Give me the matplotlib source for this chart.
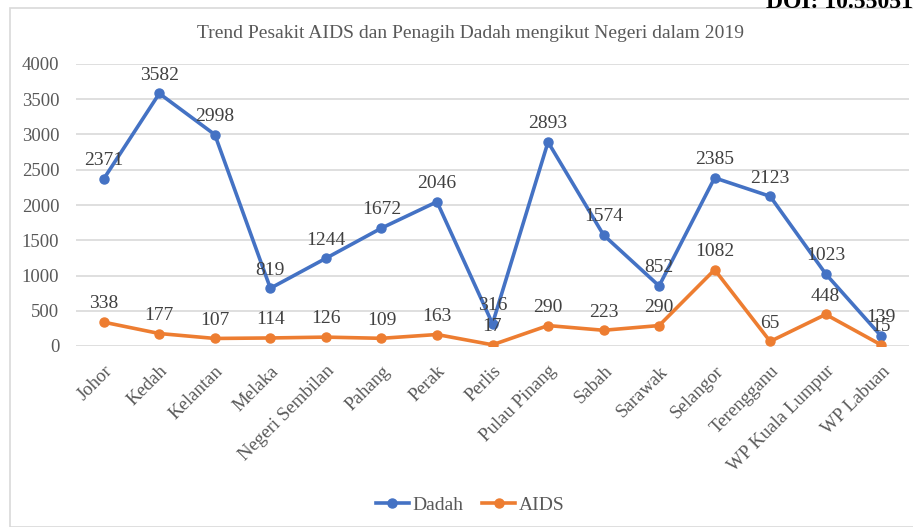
import matplotlib
matplotlib.use("Agg")
from matplotlib import pyplot as plt
from matplotlib.patches import Rectangle
import numpy as np

negeri = ['Johor', 'Kedah', 'Kelantan', 'Melaka', 'Negeri Sembilan', 'Pahang', 'Perak',
          'Perlis', 'Pulau Pinang', 'Sabah', 'Sarawak', 'Selangor', 'Terengganu',
          'WP Kuala Lumpur', 'WP Labuan']
dadah = [2371, 3582, 2998, 819, 1244, 1672, 2046, 316, 2893, 1574, 852, 2385, 2123, 1023, 139]
aids = [338, 177, 107, 114, 126, 109, 163, 17, 290, 223, 290, 1082, 65, 448, 15]
y_ticks = [0, 500, 1000, 1500, 2000, 2500, 3000, 3500, 4000]

plt.rcParams['font.family'] = ['Liberation Serif', 'DejaVu Serif']

fig = plt.figure(figsize=(9.13, 5.27), dpi=100)
W, H = 913, 527
# chart border
fig.patches.append(Rectangle((10 / W, 0), 1.0, 1 - 8 / H, transform=fig.transFigure,
                             fill=False, edgecolor='#d9d9d9', linewidth=1.2))
fig.text(1.0, 1 - 2 / H, 'DOI: 10.55051', ha='right', va='center', fontsize=17,
         fontweight='bold', color='black')

ax = fig.add_axes([76 / W, 1 - 346 / H, (909 - 76) / W, (346 - 64) / H])
x = np.arange(len(negeri))
ax.plot(x, dadah, color='#4472C4', linewidth=2.6, marker='o', markersize=6.5, label='Dadah')
ax.plot(x, aids, color='#ED7D31', linewidth=2.6, marker='o', markersize=6.5, label='AIDS')

for xi, v in zip(x, dadah):
    ax.annotate(str(v), (xi, v), xytext=(0, 7), textcoords='offset points',
                ha='center', va='bottom', fontsize=14, color='#404040')
for xi, v in zip(x, aids):
    ax.annotate(str(v), (xi, v), xytext=(0, 7), textcoords='offset points',
                ha='center', va='bottom', fontsize=14, color='#404040')

ax.set_xlim(-0.5, len(negeri) - 0.5)
ax.set_ylim(0, 4000)
ax.set_yticks(y_ticks)
ax.set_xticks(x)
ax.set_xticklabels(negeri, rotation=45, ha='right', rotation_mode='anchor')
ax.tick_params(axis='both', length=0, labelsize=13.5, colors='#595959')
ax.tick_params(axis='y', pad=12)
ax.tick_params(axis='x', pad=12)
ax.grid(axis='y', color='#d9d9d9', linewidth=1.2)
ax.set_axisbelow(True)
for s in ax.spines.values():
    s.set_visible(False)

fig.text(470 / W, 1 - 33 / H,
         'Trend Pesakit AIDS dan Penagih Dadah mengikut Negeri dalam 2019',
         ha='center', va='center', fontsize=14, color='#595959')

fig.legend(loc='center', bbox_to_anchor=(470 / W, 1 - 505 / H), ncol=2, frameon=False,
           fontsize=14, labelcolor='#595959', handlelength=1.7, columnspacing=1.0,
           handletextpad=0.15)

fig.savefig('out.png', dpi=100)
